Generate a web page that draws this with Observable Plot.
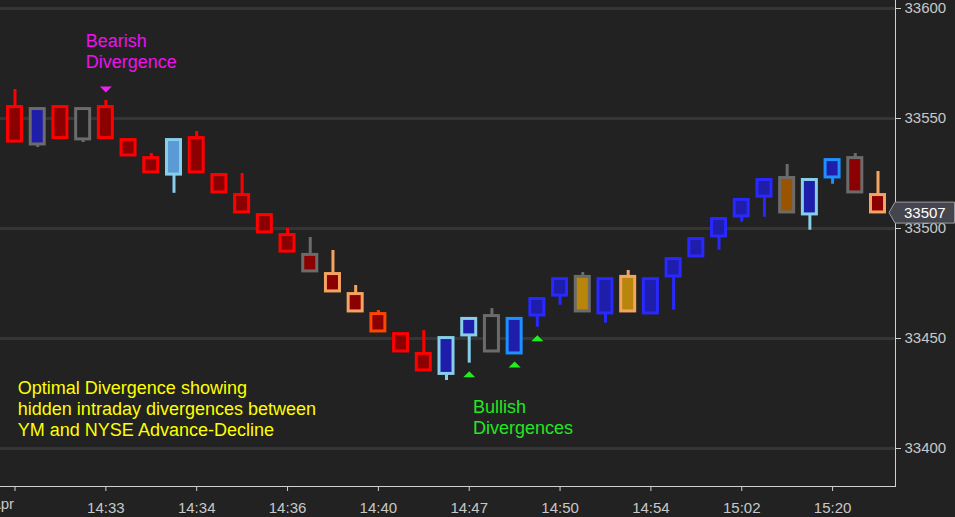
<!DOCTYPE html>
<html>
<head>
<meta charset="utf-8">
<script src="https://cdn.jsdelivr.net/npm/d3@7"></script>
<script src="https://cdn.jsdelivr.net/npm/@observablehq/plot@0.6"></script>
<style>
  html, body { margin: 0; padding: 0; background: #222222; overflow: hidden; }
  #chart { width: 955px; height: 517px; }
</style>
</head>
<body>
<div id="chart"></div>
<script>
// ---- data (YM price bars) ----
const opens  = [33555.2,33538.2,33555.2,33540.5,33555.2,33540.2,33532.0,33524.5,33541.1,33524.3,
                33515.2,33506.1,33497.0,33488.0,33479.3,33470.2,33461.1,33452.0,33443.0,33433.9,
                33451.4,33444.1,33443.2,33460.45,33469.5,33462.3,33461.4,33462.3,33461.4,33478.2,
                33487.3,33496.4,33505.5,33514.5,33507.3,33506.4,33523.2,33532.0,33515.2];
const closes = [33539.5,33554.3,33541.1,33554.3,33541.1,33533.2,33525.5,33540.2,33525.5,33516.4,
                33507.3,33498.2,33489.5,33480.5,33471.4,33462.3,33453.2,33444.1,33435.5,33450.2,
                33458.9,33460.2,33458.9,33467.95,33477.0,33478.0,33477.0,33478.0,33477.0,33486.1,
                33495.2,33504.3,33513.0,33522.05,33522.95,33522.05,33531.1,33516.4,33507.3];
const highs  = [33563.2,33554.3,33555.2,33554.3,33558.2,33540.2,33534.1,33540.2,33544.1,33524.3,
                33525.0,33506.1,33500.0,33495.9,33490.0,33474.1,33462.7,33452.0,33453.6,33450.2,
                33458.9,33463.6,33458.9,33467.95,33477.0,33480.0,33477.0,33480.9,33477.0,33486.1,
                33495.2,33504.3,33513.0,33522.05,33529.1,33522.05,33531.1,33534.1,33525.9];
const lows   = [33539.5,33536.8,33541.1,33539.1,33541.1,33533.2,33525.5,33516.0,33525.5,33516.4,
                33507.3,33498.2,33489.5,33480.5,33471.4,33462.3,33453.2,33444.1,33435.5,33430.9,
                33438.8,33444.1,33443.2,33455.1,33465.1,33462.3,33457.0,33462.3,33461.4,33462.9,
                33487.3,33490.1,33502.9,33505.1,33507.3,33499.2,33520.1,33516.4,33507.3];
// bar outline state and body state
const outlineState = ["sellStrong","neutral","sellStrong","neutral","sellStrong","sellStrong","sellStrong","buyLight","sellStrong","sellStrong",
                      "sellStrong","sellStrong","sellStrong","neutral","sellWeak","sellWeak","sellMid","sellStrong","sellStrong","buyLight",
                      "buyLight","neutral","buyMid","buyStrong","buyStrong","neutral","buyStrong","sellWeak","buyStrong","buyStrong",
                      "buyStrong","buyStrong","buyStrong","buyStrong","neutral","buyLight","buyMid","neutral","sellWeak"];
const bodyState    = ["down","up","down","flat","down","down","down","upLight","down","down",
                      "down","down","down","down","down","down","down","down","down","up",
                      "up","flat","up","up","up","gold","up","gold","up","up",
                      "up","up","up","up","brown","up","up","down","down"];
const stateNames  = ["sellStrong","neutral","buyLight","sellWeak","sellMid","buyStrong","buyMid",
                     "down","up","flat","upLight","gold","brown"];
const stateColors = ["#ff0000","#6b6b6b","#87ceeb","#f4a460","#ff4500","#2828ff","#1e90ff",
                     "#8b0000","#1e1eaa","#222222","#5b9bd5","#b8860b","#9a5400"];
const bearishIdx = [4];
const bullishIdx = [20, 22, 23];
const xTickIdx    = [0, 4, 8, 12, 16, 20, 24, 28, 32, 36];
const xTickLabels = ["Apr","14:33","14:34","14:36","14:40","14:47","14:50","14:54","15:02","15:20"];
const yTicks = [33400, 33450, 33500, 33550, 33600];
const lastPrice = 33507;

const bars = opens.map((o, i) => ({
  i, open: o, close: closes[i], high: highs[i], low: lows[i],
  outline: outlineState[i], body: bodyState[i]
}));
const ticks = xTickIdx.map((i, k) => ({i, label: xTickLabels[k]}));

const downTri = {draw(ctx) { ctx.moveTo(-6, -3); ctx.lineTo(6, -3); ctx.lineTo(0, 3); ctx.closePath(); }};
const upTri   = {draw(ctx) { ctx.moveTo(-6, 3); ctx.lineTo(6, 3); ctx.lineTo(0, -3); ctx.closePath(); }};

const font = "'Liberation Sans', Arial, Helvetica, sans-serif";

function lastPriceTag(index, scales, values, dims) {
  const yc = scales.y(lastPrice);
  const x0 = dims.width - dims.marginRight;
  const g = d3.create("svg:g");
  g.append("path")
    .attr("d", `M${x0},${yc - 10.5}H${dims.width - 0.5}V${yc + 10.5}H${x0}L${x0 - 6},${yc}Z`)
    .attr("fill", "#45454d").attr("stroke", "#9a9aa0").attr("stroke-width", 1);
  g.append("text")
    .attr("x", x0 + 9).attr("y", yc).attr("dy", "0.36em")
    .attr("text-anchor", "start")
    .attr("fill", "#ffffff").attr("font-size", 15).attr("font-family", font)
    .text(String(lastPrice));
  return g.node();
}

const chart = Plot.plot({
  width: 955,
  height: 517,
  marginLeft: 0,
  marginRight: 60,
  marginTop: 0,
  marginBottom: 31,
  style: {background: "#222222", color: "#c8c8c8", fontFamily: font, fontSize: "15px", overflow: "visible"},
  x: {type: "band", domain: d3.range(opens.length), paddingInner: 0, paddingOuter: 0.205, align: 0.34, round: false},
  y: {domain: [33382.73, 33603.64]},
  color: {type: "ordinal", domain: stateNames, range: stateColors},
  marks: [
    Plot.gridY(yTicks, {stroke: "#353535", strokeOpacity: 1, strokeWidth: 3}),
    Plot.ruleX(bars, {x: "i", y1: "low", y2: "high", stroke: "outline", strokeWidth: 3}),
    Plot.barY(bars, {x: "i", y1: "open", y2: "close", fill: "body", stroke: "outline", strokeWidth: 3,
                     insetLeft: 4.35, insetRight: 4.35}),
    Plot.dot(bars.filter(d => bearishIdx.includes(d.i)), {x: "i", y: "high", dy: -11, symbol: downTri, fill: "#ee22ee", stroke: "none"}),
    Plot.dot(bars.filter(d => bullishIdx.includes(d.i)), {x: "i", y: "low", dy: 11, symbol: upTri, fill: "#22ee22", stroke: "none"}),
    Plot.frame({anchor: "right", stroke: "#d0d0d0"}),
    Plot.frame({anchor: "bottom", stroke: "#d0d0d0"}),
    Plot.axisY({anchor: "right", ticks: yTicks, tickSize: 5, tickPadding: 4, fontSize: 15, label: null, stroke: "#d0d0d0",
                tickFormat: d => String(d)}),
    Plot.axisX({ticks: xTickIdx, tickSize: 5, tickPadding: 11, fontSize: 15, label: null, stroke: "#d0d0d0",
                tickFormat: i => (i === 0 ? "" : xTickLabels[xTickIdx.indexOf(i)])}),
    Plot.text(ticks.filter(d => d.i === 0), {x: "i", frameAnchor: "bottom", dy: 22, text: "label", textAnchor: "end", dx: -1, fontSize: 15, fill: "#c8c8c8"}),
    Plot.text(["Bearish\nDivergence"], {x: () => 3, y: () => 33589.2, dx: 2.5, text: d => d, textAnchor: "start", lineAnchor: "top",
              fill: "#ee11ee", fontSize: 18, lineHeight: 1.167}),
    Plot.text(["Bullish\nDivergences"], {x: () => 20, y: () => 33423.0, dx: 3.8, text: d => d, textAnchor: "start", lineAnchor: "top",
              fill: "#22e622", fontSize: 18, lineHeight: 1.167}),
    Plot.text(["Optimal Divergence showing\nhidden intraday divergences between\nYM and NYSE Advance-Decline"],
              {x: () => 0, y: () => 33431.5, dx: 2.8, text: d => d, textAnchor: "start", lineAnchor: "top",
               fill: "#ffff00", fontSize: 18, lineHeight: 1.167}),
    lastPriceTag
  ]
});
document.getElementById("chart").appendChild(chart);
</script>
</body>
</html>
